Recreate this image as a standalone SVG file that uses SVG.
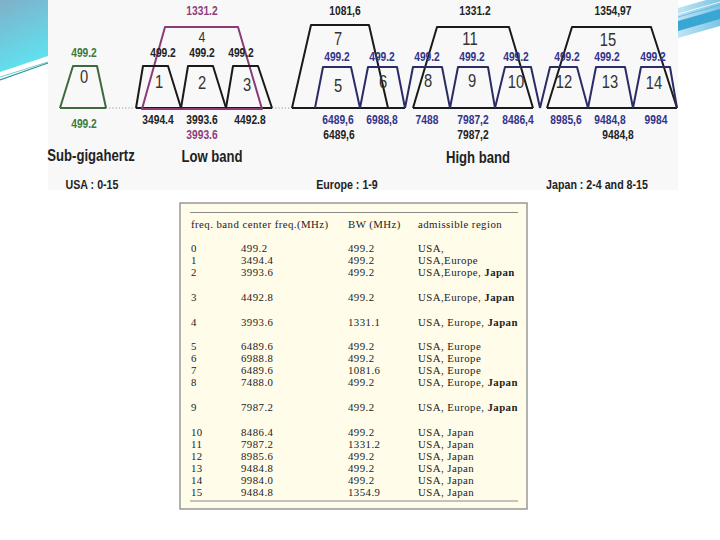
<svg xmlns="http://www.w3.org/2000/svg" width="720" height="540" viewBox="0 0 720 540">
<defs>
<linearGradient id="gl" x1="0" y1="0" x2="0.3" y2="1">
<stop offset="0" stop-color="#7fb0c8"/>
<stop offset="1" stop-color="#5fe2f0"/>
</linearGradient>
<linearGradient id="gr" x1="0" y1="0" x2="1" y2="0">
<stop offset="0" stop-color="#bfe4f2"/>
<stop offset="1" stop-color="#7cc6e4"/>
</linearGradient>
<style>
.n{font-family:"Liberation Sans",Arial,sans-serif;font-weight:bold;font-size:12.5px;text-anchor:middle}
.d{font-family:"Liberation Sans",Arial,sans-serif;font-size:18px;text-anchor:middle;fill:#333}
.h{font-family:"Liberation Sans",Arial,sans-serif;font-weight:bold;font-size:16px;text-anchor:middle;fill:#222}
.r{font-family:"Liberation Sans",Arial,sans-serif;font-weight:bold;font-size:13px;text-anchor:middle;fill:#222}
.g{fill:#3d7a3d}.p{fill:#8e3d7c}.b{fill:#33338a}.k{fill:#222}
.tz{fill:none;stroke-width:2;stroke-linejoin:round}
.tk{stroke:#1a1a1a}.tn{stroke:#2b2b66}.tg{stroke:#3d6b3d}.tp{stroke:#8b3a78}
.t{font-family:"Liberation Serif","Times New Roman",serif;font-size:10.8px;letter-spacing:0.45px;fill:#222}
.bo{font-weight:bold}
</style>
</defs>
<rect x="0" y="0" width="720" height="540" fill="#ffffff"/>
<rect x="48" y="0" width="630" height="190" fill="#f8f8f8"/>
<polygon points="0,0 48,0 48,56 0,72" fill="url(#gl)"/>
<line x1="48" y1="62" x2="0" y2="77" stroke="#7cc8d0" stroke-width="1"/>
<line x1="48" y1="63" x2="0" y2="80" stroke="#2a9aa0" stroke-width="1.2"/>
<polygon points="678,8 720,-4 720,26 678,38" fill="url(#gr)"/>
<polygon points="678,21 720,9 720,19 678,31" fill="#3aa6d4"/>
<line x1="678" y1="14" x2="720" y2="2" stroke="#ffffff" stroke-width="0.8"/>
<line x1="678" y1="17" x2="720" y2="5" stroke="#5ab4dc" stroke-width="0.8"/>
<g id="connectors" fill="none">
<line x1="106" y1="108" x2="136" y2="108" stroke="#999" stroke-width="1.2" stroke-dasharray="1.2,2"/>
<line x1="272" y1="108" x2="292" y2="108" stroke="#999" stroke-width="1.2" stroke-dasharray="1.2,2"/>
<line x1="60" y1="108" x2="106" y2="108" stroke="#3d6b3d" stroke-width="2"/>
<line x1="136" y1="108" x2="272" y2="108" stroke="#1a1a1a" stroke-width="2"/>
<line x1="292" y1="108" x2="405" y2="108" stroke="#1a1a1a" stroke-width="2"/>
<line x1="413" y1="108" x2="533" y2="108" stroke="#1a1a1a" stroke-width="2"/>
<line x1="547" y1="108" x2="677" y2="108" stroke="#1a1a1a" stroke-width="2"/>
</g>
<g id="band0">
<polyline class="tz tg" points="60,108 73,66 97,66 106,108"/>
<text class="d" transform="translate(84 83) scale(.82 1)">0</text>
<text class="n g" transform="translate(84 57) scale(.82 1)">499.2</text>
<text class="n g" transform="translate(84 128) scale(.82 1)">499.2</text>
</g>
<g id="band4">
<polygon class="tz tp" points="142,109 165,27 238,27 262,109"/>
<text class="n p" transform="translate(202 15) scale(.82 1)">1331.2</text>
<text class="d" style="font-size:15px" transform="translate(202 42) scale(.82 1)">4</text>
<text class="n p" transform="translate(202 139) scale(.82 1)">3993.6</text>
</g>
<g id="band1">
<polyline class="tz tk" points="136,108 143,66 168,66 181,108"/>
<text class="d" transform="translate(159 88) scale(.82 1)">1</text>
<text class="n k" transform="translate(163 57) scale(.82 1)">499.2</text>
<text class="n k" transform="translate(158 124) scale(.82 1)">3494.4</text>
</g>
<g id="band2">
<polyline class="tz tk" points="181,108 188,66 213,66 226,108"/>
<text class="d" transform="translate(202 89) scale(.82 1)">2</text>
<text class="n k" transform="translate(202 57) scale(.82 1)">499.2</text>
<text class="n k" transform="translate(202 124) scale(.82 1)">3993.6</text>
</g>
<g id="band3">
<polyline class="tz tk" points="226,108 233,66 258,66 272,108"/>
<text class="d" transform="translate(247 91) scale(.82 1)">3</text>
<text class="n k" transform="translate(241 57) scale(.82 1)">499.2</text>
<text class="n k" transform="translate(250 124) scale(.82 1)">4492.8</text>
</g>
<g id="band7">
<polyline class="tz tk" points="292,108 311,25 369,25 388,108"/>
<text class="n k" transform="translate(345 15) scale(.82 1)">1081,6</text>
<text class="d" transform="translate(338 45) scale(.82 1)">7</text>
<text class="n k" transform="translate(339 139) scale(.82 1)">6489,6</text>
</g>
<g id="band5">
<polyline class="tz tn" points="315,108 323,67 351,67 360,108"/>
<text class="d" transform="translate(338 92) scale(.82 1)">5</text>
<text class="n b" transform="translate(337 61) scale(.82 1)">499.2</text>
<text class="n b" transform="translate(338 124) scale(.82 1)">6489,6</text>
</g>
<g id="band6">
<polyline class="tz tn" points="360,108 368,67 397,67 405,108"/>
<text class="d" transform="translate(383 88) scale(.82 1)">6</text>
<text class="n b" transform="translate(382 61) scale(.82 1)">499.2</text>
<text class="n b" transform="translate(382 124) scale(.82 1)">6988,8</text>
</g>
<g id="band11">
<polyline class="tz tk" points="413,108 437,27 509,27 533,108"/>
<text class="n k" transform="translate(475 15) scale(.82 1)">1331.2</text>
<text class="d" transform="translate(470 45) scale(.82 1)">11</text>
<text class="n k" transform="translate(473 139) scale(.82 1)">7987,2</text>
</g>
<g id="band8">
<polyline class="tz tn" points="405,108 413,67 442,67 450,108"/>
<text class="d" transform="translate(428 87) scale(.82 1)">8</text>
<text class="n b" transform="translate(427 61) scale(.82 1)">499.2</text>
<text class="n b" transform="translate(427 124) scale(.82 1)">7488</text>
</g>
<g id="band9">
<polyline class="tz tn" points="450,108 458,67 488,67 495,108"/>
<text class="d" transform="translate(472 87) scale(.82 1)">9</text>
<text class="n b" transform="translate(472 61) scale(.82 1)">499.2</text>
<text class="n b" transform="translate(473 124) scale(.82 1)">7987,2</text>
</g>
<g id="band10">
<polyline class="tz tn" points="495,108 505,67 531,67 540,108"/>
<text class="d" transform="translate(516 88) scale(.82 1)">10</text>
<text class="n b" transform="translate(516 61) scale(.82 1)">499.2</text>
<text class="n b" transform="translate(518 124) scale(.82 1)">8486,4</text>
</g>
<g id="band15">
<polyline class="tz tk" points="547,108 572,27 651,27 677,108"/>
<text class="n k" transform="translate(613 15) scale(.82 1)">1354,97</text>
<text class="d" transform="translate(608 46) scale(.82 1)">15</text>
<text class="n k" transform="translate(618 139) scale(.82 1)">9484,8</text>
</g>
<g id="band12">
<polyline class="tz tn" points="540,108 550,67 577,67 588,108"/>
<text class="d" transform="translate(564 88) scale(.82 1)">12</text>
<text class="n b" transform="translate(567 61) scale(.82 1)">499.2</text>
<text class="n b" transform="translate(566 124) scale(.82 1)">8985,6</text>
</g>
<g id="band13">
<polyline class="tz tn" points="588,108 596,67 625,67 633,108"/>
<text class="d" transform="translate(610 88) scale(.82 1)">13</text>
<text class="n b" transform="translate(607 61) scale(.82 1)">499.2</text>
<text class="n b" transform="translate(610 124) scale(.82 1)">9484,8</text>
</g>
<g id="band14">
<polyline class="tz tn" points="633,108 641,67 670,67 677,108"/>
<text class="d" transform="translate(654 89) scale(.82 1)">14</text>
<text class="n b" transform="translate(653 61) scale(.82 1)">499.2</text>
<text class="n b" transform="translate(656 124) scale(.82 1)">9984</text>
</g>
<g id="captions">
<text class="h" transform="translate(91 161) scale(.82 1)">Sub-gigahertz</text>
<text class="h" transform="translate(212 162) scale(.82 1)">Low band</text>
<text class="h" transform="translate(478 163) scale(.82 1)">High band</text>
<text class="r" transform="translate(92 189) scale(.82 1)">USA : 0-15</text>
<text class="r" transform="translate(347 189) scale(.82 1)">Europe : 1-9</text>
<text class="r" transform="translate(597 189) scale(.82 1)">Japan : 2-4 and 8-15</text>
</g>
<g id="table">
<rect x="180" y="203" width="347" height="306" fill="#fffcea" stroke="#999" stroke-width="1.5"/>
<line x1="190" y1="212.5" x2="518" y2="212.5" stroke="#888" stroke-width="1"/>
<line x1="190" y1="501" x2="518" y2="501" stroke="#888" stroke-width="1"/>
<text class="t" x="191" y="228">freq. band center freq.(MHz)</text>
<text class="t" x="348" y="228">BW (MHz)</text>
<text class="t" x="418" y="228">admissible region</text>
<g class="t">
<text x="191" y="252">0</text><text x="241" y="252">499.2</text><text x="348" y="252">499.2</text><text x="418" y="252">USA,</text>
<text x="191" y="264">1</text><text x="241" y="264">3494.4</text><text x="348" y="264">499.2</text><text x="418" y="264">USA,Europe</text>
<text x="191" y="276">2</text><text x="241" y="276">3993.6</text><text x="348" y="276">499.2</text><text x="418" y="276">USA,Europe, <tspan class="bo">Japan</tspan></text>
<text x="191" y="301">3</text><text x="241" y="301">4492.8</text><text x="348" y="301">499.2</text><text x="418" y="301">USA,Europe, <tspan class="bo">Japan</tspan></text>
<text x="191" y="326">4</text><text x="241" y="326">3993.6</text><text x="348" y="326">1331.1</text><text x="418" y="326">USA, Europe, <tspan class="bo">Japan</tspan></text>
<text x="191" y="350">5</text><text x="241" y="350">6489.6</text><text x="348" y="350">499.2</text><text x="418" y="350">USA, Europe</text>
<text x="191" y="362">6</text><text x="241" y="362">6988.8</text><text x="348" y="362">499.2</text><text x="418" y="362">USA, Europe</text>
<text x="191" y="374">7</text><text x="241" y="374">6489.6</text><text x="348" y="374">1081.6</text><text x="418" y="374">USA, Europe</text>
<text x="191" y="386">8</text><text x="241" y="386">7488.0</text><text x="348" y="386">499.2</text><text x="418" y="386">USA, Europe, <tspan class="bo">Japan</tspan></text>
<text x="191" y="411">9</text><text x="241" y="411">7987.2</text><text x="348" y="411">499.2</text><text x="418" y="411">USA, Europe, <tspan class="bo">Japan</tspan></text>
<text x="191" y="436">10</text><text x="241" y="436">8486.4</text><text x="348" y="436">499.2</text><text x="418" y="436">USA, Japan</text>
<text x="191" y="448">11</text><text x="241" y="448">7987.2</text><text x="348" y="448">1331.2</text><text x="418" y="448">USA, Japan</text>
<text x="191" y="460">12</text><text x="241" y="460">8985.6</text><text x="348" y="460">499.2</text><text x="418" y="460">USA, Japan</text>
<text x="191" y="472">13</text><text x="241" y="472">9484.8</text><text x="348" y="472">499.2</text><text x="418" y="472">USA, Japan</text>
<text x="191" y="484">14</text><text x="241" y="484">9984.0</text><text x="348" y="484">499.2</text><text x="418" y="484">USA, Japan</text>
<text x="191" y="496">15</text><text x="241" y="496">9484.8</text><text x="348" y="496">1354.9</text><text x="418" y="496">USA, Japan</text>
</g>
</g>
</svg>
